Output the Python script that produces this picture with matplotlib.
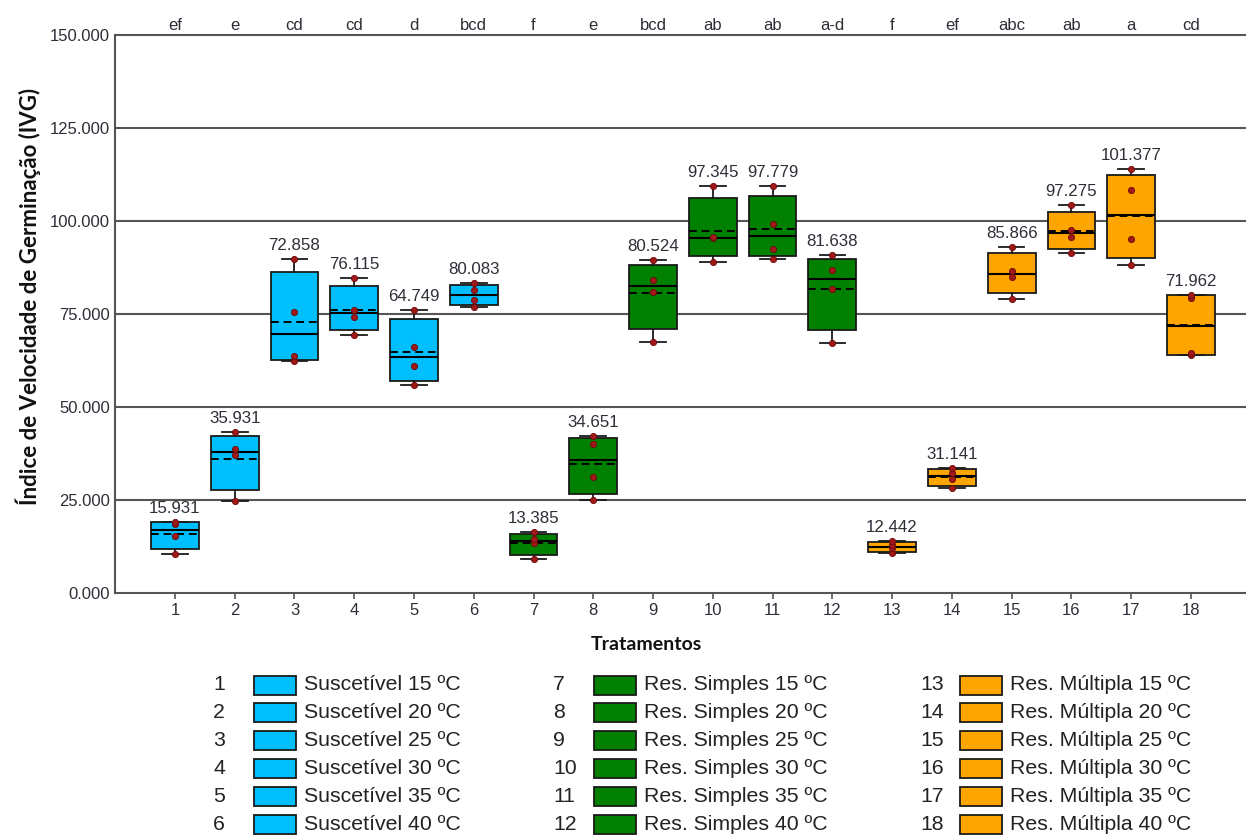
import numpy as np
import matplotlib
matplotlib.use('Agg')
import matplotlib.pyplot as plt
from matplotlib.patches import Rectangle

# ---------------- data ----------------
treatments = list(range(1, 19))
groups = ['Suscetível', 'Res. Simples', 'Res. Múltipla']
temperatures = [15, 20, 25, 30, 35, 40]
group_colors = ['#00BFFF', '#008000', '#FFA500']
letters = ['ef', 'e', 'cd', 'cd', 'd', 'bcd', 'f', 'e', 'bcd',
           'ab', 'ab', 'a-d', 'f', 'ef', 'abc', 'ab', 'a', 'cd']
mean_labels = [15.931, 35.931, 72.858, 76.115, 64.749, 80.083,
               13.385, 34.651, 80.524, 97.345, 97.779, 81.638,
               12.442, 31.141, 85.866, 97.275, 101.377, 71.962]

# four replicates per treatment (sorted)
rep_a = [10.6, 24.7, 62.4, 69.4, 55.8, 77.0, 9.1, 25.0, 67.5,
         88.9, 89.9, 67.15, 10.8, 28.2, 79.06, 91.5, 88.2, 63.85]
rep_b = [15.3, 37.0, 63.7, 74.3, 61.0, 78.7, 13.5, 31.2, 81.0,
         95.3, 92.6, 81.8, 12.1, 30.6, 84.9, 95.8, 95.1, 64.5]
rep_c = [18.6, 38.6, 75.6, 76.1, 66.0, 81.4, 14.4, 40.1, 84.2,
         95.7, 99.3, 86.8, 12.9, 32.2, 86.5, 97.6, 108.3, 79.3]
rep_d = [19.2, 43.4, 89.7, 84.7, 76.2, 83.2, 16.5, 42.3, 89.4,
         109.5, 109.3, 90.8, 13.97, 33.56, 93.0, 104.2, 113.9, 80.2]

# ---------------- figure ----------------
W, H = 1246, 835
fig = plt.figure(figsize=(W / 100, H / 100), dpi=100)
ax = fig.add_axes([115.2 / W, 1 - 593 / H, (1250.7 - 115.2) / W, (593 - 35) / H])

REG = ['Liberation Sans', 'DejaVu Sans']
BOLD = ['Lato', 'DejaVu Sans']
txt_col = '#2e2e38'
grid_col = '#555555'

reps = np.array([rep_a, rep_b, rep_c, rep_d]).T  # shape (18, 4)
stats = []
for i, t in enumerate(treatments):
    arr = np.sort(reps[i])
    q1, q3 = np.percentile(arr, [25, 75], method='weibull')
    stats.append(dict(med=np.median(arr), q1=q1, q3=q3,
                      whislo=arr.min(), whishi=arr.max(),
                      mean=arr.mean(), fliers=[], label=str(t)))

# grid lines
for v in [25, 50, 75, 100, 125]:
    ax.axhline(v, color=grid_col, lw=1.5, zorder=0)

bp = ax.bxp(stats, positions=treatments, widths=0.8, capwidths=0.43,
            patch_artist=True, showmeans=True, meanline=True,
            showfliers=False,
            boxprops=dict(edgecolor='#1a1a1a', linewidth=1.3),
            whiskerprops=dict(color='#1a1a1a', linewidth=1.3),
            capprops=dict(color='#1a1a1a', linewidth=1.3),
            medianprops=dict(color='black', linewidth=1.5),
            meanprops=dict(color='black', linewidth=1.4, linestyle=(0, (4, 2.5))),
            zorder=3)
for i, patch in enumerate(bp['boxes']):
    patch.set_facecolor(group_colors[i // 6])

# replicate points
for i, t in enumerate(treatments):
    ax.scatter([t] * 4, reps[i], s=20, color='#A01818', edgecolor='#6a0a0a',
               linewidth=0.6, zorder=5)

# mean labels and letters
for i, t in enumerate(treatments):
    ax.annotate(f'{mean_labels[i]:.3f}', xy=(t, reps[i].max()), xytext=(0, 6.5),
                textcoords='offset points', ha='center', va='baseline',
                fontsize=12.2, family=REG, color=txt_col, zorder=6)
    ax.annotate(letters[i], xy=(t, 150), xytext=(0, 3.6),
                textcoords='offset points', ha='center', va='baseline',
                fontsize=12, family=REG, color=txt_col, annotation_clip=False)

ax.set_xlim(0, 19)
ax.set_ylim(0, 150)
ax.set_xticks(treatments)
ax.set_xticklabels([str(t) for t in treatments], fontsize=12, family=REG, color=txt_col)
ax.set_yticks([0, 25, 50, 75, 100, 125, 150])
ax.set_yticklabels([f'{v:.3f}' for v in [0, 25, 50, 75, 100, 125, 150]],
                   fontsize=12, family=REG, color=txt_col)
ax.tick_params(axis='x', length=4.5, width=1.2, color=grid_col, pad=3)
ax.tick_params(axis='y', length=0, pad=4)
for s in ['left', 'bottom', 'top']:
    ax.spines[s].set_color(grid_col)
    ax.spines[s].set_linewidth(1.5)
ax.spines['right'].set_visible(False)

fig.text(28 / W, 1 - 296 / H, 'Índice de Velocidade de Germinação (IVG)',
         rotation=90, ha='center', va='center', fontsize=16,
         fontweight='bold', family=BOLD, color='#111111')
fig.text(646 / W, 1 - 645 / H, 'Tratamentos', ha='center', va='center',
         fontsize=14, fontweight='bold', family=BOLD, color='#111111')

# legend
row_y = [685 + 27.8 * k for k in range(6)]
num_x = [213, 553, 920]
patch_x = [254, 594, 960]
text_x = [304, 644, 1010]
for g in range(3):
    for k in range(6):
        idx = g * 6 + k
        y = row_y[k]
        fig.text(num_x[g] / W, 1 - y / H, str(treatments[idx]), ha='left',
                 va='center', fontsize=15.3, family=REG, color='#222222')
        fig.patches.append(Rectangle((patch_x[g] / W, 1 - (y + 9.5) / H), 42 / W, 19 / H,
                                     transform=fig.transFigure, facecolor=group_colors[g],
                                     edgecolor='#1a1a1a', linewidth=1.3))
        fig.text(text_x[g] / W, 1 - y / H, f'{groups[g]} {temperatures[k]} ºC',
                 ha='left', va='center', fontsize=15.3, family=REG, color='#222222')

fig.savefig('out.png', dpi=100)
